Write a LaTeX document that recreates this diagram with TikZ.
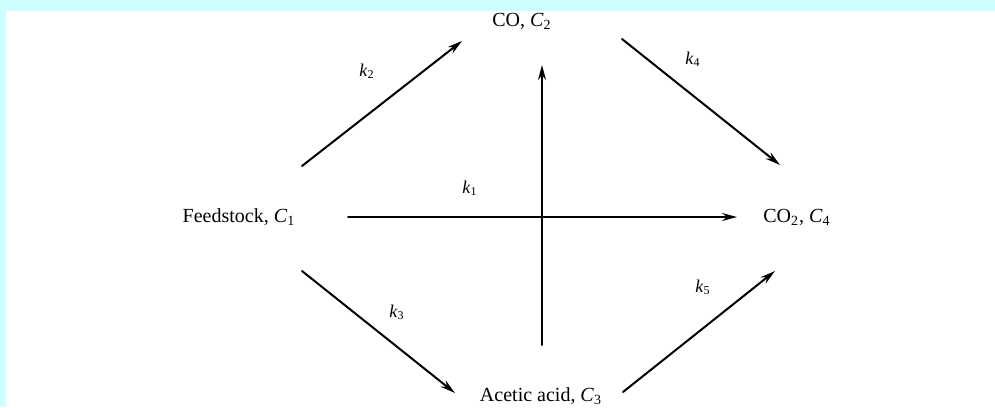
\documentclass[tikz,border=0pt]{standalone}
\usepackage{fontspec}
\setmainfont{Liberation Serif}
\usetikzlibrary{arrows.meta}
\definecolor{framecyan}{HTML}{CCFFFF}
\begin{document}
\begin{tikzpicture}[x=0.5pt, y=-0.5pt, font=\fontsize{10}{12}\selectfont, line cap=round, >={Stealth[length=7.5pt, width=4pt]},
		species/.style={anchor=base, inner sep=0pt},
		rate/.style={inner sep=0pt, font=\fontsize{9}{11}\selectfont},
		flow/.style={->, line width=1pt}]
	\useasboundingbox (0,0) rectangle (995,407);
	\fill[framecyan] (0,0) rectangle (995,407);
	\fill[white] (6,11) rectangle (995,407);
	% species
	\node[species] (co) at (522,26) {CO, \textit{C}\textsubscript{2}};
	\node[species] (feed) at (239,222) {Feedstock, \textit{C}\textsubscript{1}};
	\node[species] (cotwo) at (797,222) {CO\textsubscript{2}, \textit{C}\textsubscript{4}};
	\node[species] (acid) at (541,401) {Acetic acid, \textit{C}\textsubscript{3}};
	% arrow ends
	\coordinate (a1) at (348,217); \coordinate (b1) at (737,217);
	\coordinate (a2) at (302,166); \coordinate (b2) at (462,41);
	\coordinate (a3) at (302,271); \coordinate (b3) at (455,393);
	\coordinate (a4) at (622,39);  \coordinate (b4) at (780,165);
	\coordinate (a5) at (623,392); \coordinate (b5) at (775,271);
	\coordinate (a6) at (542,345); \coordinate (b6) at (542,65);
	\foreach \i in {1,...,6} {
		\draw[flow] (a\i) -- (b\i);
	}
	% rate constants
	\node[rate] (k1) at (470,188) {\textit{k}\textsubscript{1}};
	\node[rate] (k2) at (367,71) {\textit{k}\textsubscript{2}};
	\node[rate] (k3) at (397,312) {\textit{k}\textsubscript{3}};
	\node[rate] (k4) at (693,59) {\textit{k}\textsubscript{4}};
	\node[rate] (k5) at (703,287) {\textit{k}\textsubscript{5}};
\end{tikzpicture}
\end{document}
